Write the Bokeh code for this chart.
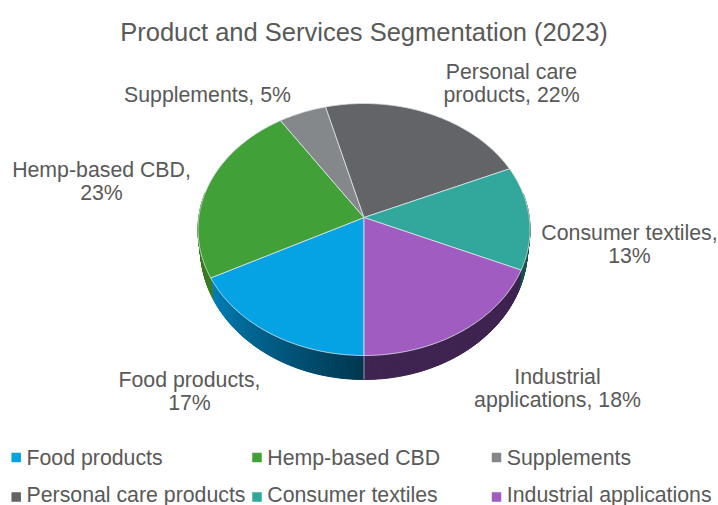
import math
from bokeh.core.properties import value
from bokeh.embed import file_html
from bokeh.models import Range1d
from bokeh.plotting import figure
from bokeh.resources import INLINE

TITLE = "Product and Services Segmentation (2023)"
segments = ["Food products", "Hemp-based CBD", "Supplements",
            "Personal care products", "Consumer textiles", "Industrial applications"]
shares = [17, 23, 5, 22, 13, 18]
slice_labels = ["Food products,\n17%", "Hemp-based CBD,\n23%", "Supplements, 5%",
                "Personal care\nproducts, 22%", "Consumer textiles,\n13%",
                "Industrial\napplications, 18%"]
top_colors = ["#05A2E4", "#41A037", "#85888A", "#636467", "#32A89C", "#A05CC0"]
wall_from = ["#00364E", "#3A7D22", "#55585A", "#3A3B3D", "#1F6A62", "#3E2350"]
wall_to = ["#0080B8", "#2A5E18", "#55585A", "#3A3B3D", "#17504A", "#3E2350"]

INK = "#595959"
FONT = "Liberation Sans"
# Rim ellipse of the tilted disc and the perspective shift of its centre
CX, CY, RX, RY, K = 363.5, 229.0, 166.0, 126.0, -0.095
DEPTH, FOOT_SCALE = 24.0, 0.985

label_anchor = [(189, 391), (101, 181), (207, 94), (511, 83), (629, 244), (557, 388)]
legend_x = [15.7, 256.5, 496.0, 15.7, 256.5, 496.0]
legend_y = [457, 457, 457, 496.5, 496.5, 496.5]
legend_text_y = [457, 457, 457, 494, 494, 494]


def rim(theta_deg, foot=False):
    """Projected rim point; angle runs clockwise from the front of the disc."""
    t = math.radians(theta_deg)
    u, v = -math.sin(t), math.cos(t)
    d = 1 + K * v
    x = CX + RX * u * math.sqrt(1 - K * K) / d
    y = CY + RY * (v + K) / d
    if foot:
        x = CX + (x - CX) * FOOT_SCALE
        y += DEPTH * (0.75 + 0.25 * v)
    return x, y


def mix(a, b, f):
    ca = [int(a[i:i + 2], 16) for i in (1, 3, 5)]
    cb = [int(b[i:i + 2], 16) for i in (1, 3, 5)]
    return "#%02x%02x%02x" % tuple(round(x + (y - x) * f) for x, y in zip(ca, cb))


p = figure(width=718, height=505, output_backend="svg", toolbar_location=None,
           x_range=Range1d(0, 718), y_range=Range1d(505, 0), min_border=0)
p.axis.visible = False
p.grid.visible = False
p.outline_line_color = None
p.background_fill_color = "white"
p.border_fill_color = "white"

total = sum(shares)
edges = [0.0]
for s in shares:
    edges.append(edges[-1] + s / total * 360.0)

# Side wall of the disc, split into narrow strips to carry the shading
wall_xs, wall_ys, wall_colors = [], [], []
for i in range(len(shares)):
    a0, a1 = edges[i], edges[i + 1]
    steps = max(2, int((a1 - a0) * 2))
    for k in range(steps):
        t0 = a0 + (a1 - a0) * k / steps
        t1 = a0 + (a1 - a0) * (k + 1) / steps
        if math.cos(math.radians((t0 + t1) / 2)) < -0.2:
            continue
        f = (k + 0.5) / steps
        q = [rim(t0), rim(t1), rim(t1, True), rim(t0, True)]
        wall_xs.append([c[0] for c in q])
        wall_ys.append([c[1] for c in q])
        wall_colors.append(mix(wall_from[i], wall_to[i], f))
p.patches(wall_xs, wall_ys, fill_color=wall_colors, line_color=wall_colors, line_width=1)

# Seam between the two front walls
xs, ys = rim(0)
xe, ye = rim(0, True)
p.line([xs, xe], [ys, ye], line_color="#AEBBC6", line_width=0.8)

# Top face slices
hub = (CX, CY + RY * K)
for i in range(len(shares)):
    a0, a1 = edges[i], edges[i + 1]
    n = max(3, int((a1 - a0) * 2))
    pts = [rim(a0 + (a1 - a0) * k / n) for k in range(n + 1)]
    px = [hub[0]] + [c[0] for c in pts]
    py = [hub[1]] + [c[1] for c in pts]
    p.patch(px, py, fill_color=top_colors[i], line_color="#DDE6E8", line_width=0.8)

# Title, slice labels and legend
p.text([363.5], [31], text=[TITLE], text_color=INK, text_font=value(FONT),
       text_font_size="25.5px", text_align="center", text_baseline="middle")
p.text([a[0] for a in label_anchor], [a[1] for a in label_anchor], text=slice_labels,
       text_color=INK, text_font=value(FONT), text_font_size="21.3px",
       text_align="center", text_baseline="middle", text_line_height=0.96)
p.rect(legend_x, legend_y, width=9.5, height=9.5, fill_color=top_colors, line_color=None)
p.text([x + 10.3 for x in legend_x], legend_text_y, text=segments,
       text_color=INK, text_font=value(FONT), text_font_size="21.3px",
       text_align="left", text_baseline="middle")

open("out.html", "w").write(file_html(p, INLINE))
